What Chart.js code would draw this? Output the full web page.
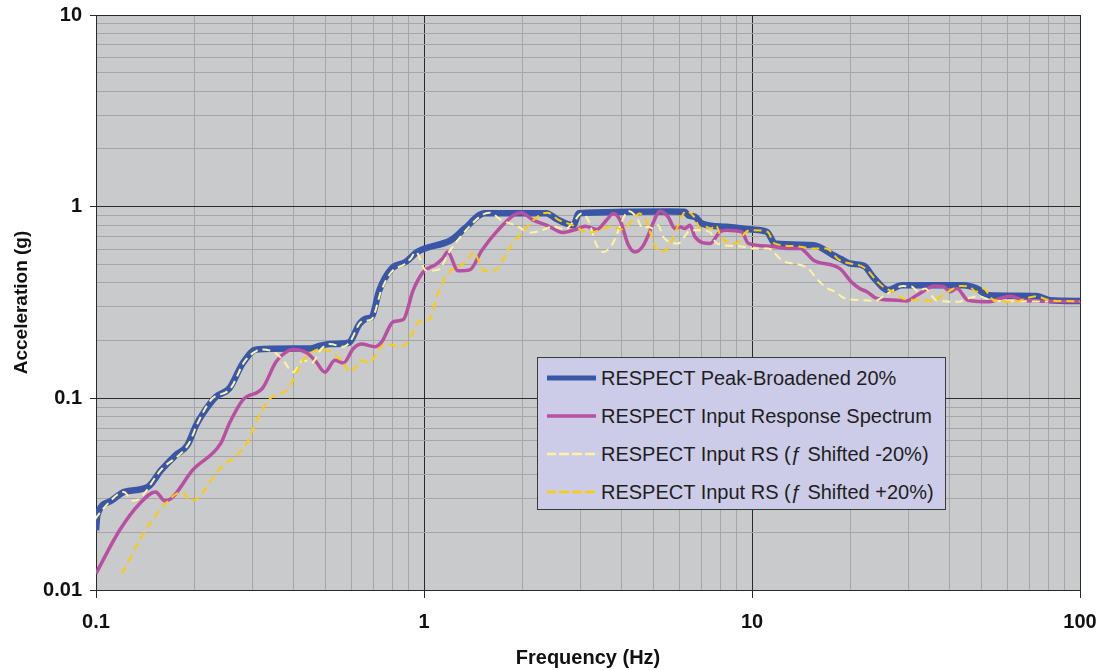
<!DOCTYPE html>
<html>
<head>
<meta charset="utf-8">
<script src="https://cdn.jsdelivr.net/npm/chart.js@4/dist/chart.umd.min.js"></script>
<style>
  html, body { margin: 0; padding: 0; background: #ffffff; }
  #wrap { position: relative; width: 1099px; height: 670px; }
  #legend {
    position: absolute; left: 537px; top: 357px; width: 409px; height: 153px;
    background: #CDCCE8; border: 1.5px solid #3a3a3a; box-sizing: border-box;
    font-family: "Liberation Sans", Arial, sans-serif; font-size: 20px; color: #1e1e1e;
  }
  .row { position: absolute; left: 9px; height: 24px; display: flex; align-items: center; white-space: nowrap; }
  .row svg { margin-right: 5px; }
</style>
</head>
<body>
<div id="wrap">
  <canvas id="c" width="1099" height="670"></canvas>
  <div id="legend"></div>
</div>
<script>
// ---- Data ----
const seriesLabels = [
  'RESPECT Peak-Broadened 20%',
  'RESPECT Input Response Spectrum',
  'RESPECT Input RS (\u0192 Shifted -20%)',
  'RESPECT Input RS (\u0192 Shifted +20%)'
];

// Peak-broadened envelope
const freqEnvelope = [0.100,0.101,0.110,0.122,0.144,0.158,0.175,0.190,0.202,0.212,0.232,0.255,0.280,0.308,0.45,0.482,0.517,0.588,0.638,0.669,0.693,0.731,0.797,0.879,0.955,1.20,1.23,1.33,1.53,2.36,2.54,2.85,2.97,5.6,6.24,6.40,6.70,7.03,8.37,9.99,11.1,11.75,15.4,17.7,18.8,19.8,22.0,23.4,26.0,28.6,44.1,48.5,52.5,73.8,81.1,100];
const accEnvelope  = [0.0205,0.0246,0.0289,0.0325,0.0345,0.0422,0.0506,0.057,0.0725,0.0834,0.1018,0.1127,0.152,0.180,0.182,0.188,0.192,0.195,0.246,0.261,0.266,0.367,0.476,0.515,0.581,0.664,0.683,0.769,0.925,0.925,0.861,0.80,0.925,0.945,0.94,0.90,0.885,0.818,0.785,0.760,0.739,0.643,0.63,0.558,0.53,0.506,0.49,0.43,0.367,0.389,0.389,0.374,0.345,0.342,0.325,0.322];

// Input response spectrum
const freqInput = [0.100,0.118,0.136,0.152,0.162,0.170,0.197,0.240,0.255,0.280,0.322,0.354,0.388,0.400,0.439,0.465,0.499,0.535,0.568,0.609,0.645,0.709,0.743,0.806,0.865,0.927,0.995,1.09,1.14,1.18,1.27,1.38,1.50,1.67,1.89,1.98,2.15,2.38,2.65,2.90,3.10,3.36,3.60,3.78,3.96,4.20,4.40,4.67,5.15,5.24,5.55,5.82,6.03,6.24,6.47,6.70,7.45,7.99,8.37,9.30,9.75,11.35,12.8,14.0,15.4,18.5,20.1,21.3,22.4,24.0,27.6,29.6,31.8,36.1,38.3,40.2,42.1,45.6,53.2,57.0,61.2,67.2,73.8,100];
const accInput  = [0.0122,0.0205,0.0283,0.0325,0.0292,0.0301,0.0422,0.0582,0.074,0.098,0.113,0.155,0.178,0.180,0.173,0.158,0.137,0.158,0.153,0.182,0.192,0.186,0.197,0.251,0.258,0.367,0.457,0.501,0.537,0.58,0.463,0.468,0.59,0.745,0.91,0.93,0.851,0.797,0.733,0.76,0.79,0.76,0.85,0.92,0.85,0.63,0.58,0.63,0.92,0.95,0.885,0.769,0.785,0.769,0.80,0.696,0.643,0.739,0.754,0.739,0.643,0.622,0.605,0.605,0.526,0.476,0.405,0.374,0.360,0.332,0.325,0.322,0.345,0.385,0.383,0.360,0.374,0.325,0.319,0.332,0.341,0.325,0.322,0.320];

// Frequency-shifted input spectra (same accelerations, shifted frequencies)
const freqMinus20 = [0.08,0.0944,0.1088,0.1216,0.1296,0.136,0.1576,0.192,0.204,0.224,0.2576,0.2832,0.3104,0.32,0.3512,0.372,0.3992,0.428,0.4544,0.4872,0.516,0.5672,0.5944,0.6448,0.692,0.7416,0.796,0.872,0.912,0.944,1.016,1.104,1.20,1.336,1.512,1.584,1.72,1.904,2.12,2.32,2.48,2.688,2.88,3.024,3.168,3.36,3.52,3.736,4.12,4.192,4.44,4.656,4.824,4.992,5.176,5.36,5.96,6.392,6.696,7.44,7.80,9.08,10.24,11.2,12.32,14.8,16.08,17.04,17.92,19.2,22.08,23.68,25.44,28.88,30.64,32.16,33.68,36.48,42.56,45.6,48.96,53.76,59.04,80];
const freqPlus20  = [0.120,0.1416,0.1632,0.1824,0.1944,0.204,0.2364,0.288,0.306,0.336,0.3864,0.4248,0.4656,0.48,0.5268,0.558,0.5988,0.642,0.6816,0.7308,0.774,0.8508,0.8916,0.9672,1.038,1.1124,1.194,1.308,1.368,1.416,1.524,1.656,1.80,2.004,2.268,2.376,2.58,2.856,3.18,3.48,3.72,4.032,4.32,4.536,4.752,5.04,5.28,5.604,6.18,6.288,6.66,6.984,7.236,7.488,7.764,8.04,8.94,9.588,10.044,11.16,11.7,13.62,15.36,16.8,18.48,22.2,24.12,25.56,26.88,28.8,33.12,35.52,38.16,43.32,45.96,48.24,50.52,54.72,63.84,68.4,73.44,80.64,88.56,120];

// Axis ticks
const xTickValues = [0.1, 1, 10, 100];
const xTickLabels = ['0.1', '1', '10', '100'];
const yTickValues = [0.01, 0.1, 1, 10];
const yTickLabels = ['0.01', '0.1', '1', '10'];

// ---- Build chart ----
const pts = (fs, as) => fs.map((f, i) => ({ x: f, y: as[i] }));
const FONT = '"Liberation Sans", Arial, sans-serif';

function isMajor(v, majors) {
  return majors.some(m => Math.abs(v - m) / m < 1e-6);
}
function logTicks(majors) {
  const t = [];
  for (let d = 0; d < majors.length - 1; d++) {
    for (let m = 1; m <= 9; m++) t.push({ value: majors[d] * m });
  }
  t.push({ value: majors[majors.length - 1] });
  return t;
}

const colors = ['#3A56A6', '#B94FA0', '#FFF3A0', '#FFCC00'];
const widths = [6.5, 3.5, 2, 2];
const dashes = [[], [], [8, 5], [8, 5]];

const datasets = [
  { label: seriesLabels[0], data: pts(freqEnvelope, accEnvelope), order: 4 },
  { label: seriesLabels[1], data: pts(freqInput, accInput), order: 3 },
  { label: seriesLabels[2], data: pts(freqMinus20, accInput), order: 2 },
  { label: seriesLabels[3], data: pts(freqPlus20, accInput), order: 1 }
].map((d, i) => Object.assign(d, {
  borderColor: colors[i], backgroundColor: colors[i], borderWidth: widths[i],
  borderDash: dashes[i], pointRadius: 0, showLine: true, fill: false,
  cubicInterpolationMode: 'monotone', borderCapStyle: 'butt', borderJoinStyle: 'round'
}));

const bgPlugin = {
  id: 'plotBg',
  beforeDraw(chart) {
    const { ctx, chartArea: a } = chart;
    ctx.save();
    ctx.fillStyle = '#C9CACC';
    ctx.fillRect(a.left, a.top, a.right - a.left, a.bottom - a.top);
    ctx.restore();
  }
};

new Chart(document.getElementById('c'), {
  type: 'scatter',
  data: { datasets },
  options: {
    responsive: false,
    animation: false,
    layout: { padding: { top: 15, right: 19, left: 0, bottom: 0 } },
    plugins: { legend: { display: false }, tooltip: { enabled: false } },
    scales: {
      x: {
        type: 'logarithmic', min: 0.1, max: 100,
        afterBuildTicks: s => { s.ticks = logTicks(xTickValues); },
        afterFit: s => { s.height = 80; s.paddingLeft = 0; s.paddingRight = 0; },
        ticks: {
          autoSkip: false, maxRotation: 0, padding: 12, color: '#111',
          font: { family: FONT, size: 20, weight: 'bold' },
          callback: v => { const i = xTickValues.findIndex(m => Math.abs(v - m) / m < 1e-6); return i >= 0 ? xTickLabels[i] : ''; }
        },
        grid: {
          color: c => (c.tick && isMajor(c.tick.value, xTickValues)) ? '#2a2a2a' : '#A5A6A8',
          tickColor: c => (c.tick && isMajor(c.tick.value, xTickValues)) ? '#2a2a2a' : 'rgba(0,0,0,0)',
          lineWidth: 1, tickLength: 8
        },
        border: { color: '#2a2a2a', width: 1 },
        title: { display: true, text: 'Frequency (Hz)', color: '#111', padding: { top: 4, bottom: 0 },
                 font: { family: FONT, size: 20, weight: 'bold' } }
      },
      y: {
        type: 'logarithmic', min: 0.01, max: 10,
        afterBuildTicks: s => { s.ticks = logTicks(yTickValues); },
        afterFit: s => { s.width = 96; s.paddingTop = 0; s.paddingBottom = 0; },
        ticks: {
          autoSkip: false, padding: 8, color: '#111',
          font: { family: FONT, size: 20, weight: 'bold' },
          callback: v => { const i = yTickValues.findIndex(m => Math.abs(v - m) / m < 1e-6); return i >= 0 ? yTickLabels[i] : ''; }
        },
        grid: {
          color: c => (c.tick && isMajor(c.tick.value, yTickValues)) ? '#2a2a2a' : '#A5A6A8',
          tickColor: c => (c.tick && isMajor(c.tick.value, yTickValues)) ? '#2a2a2a' : 'rgba(0,0,0,0)',
          lineWidth: 1, tickLength: 6
        },
        border: { color: '#2a2a2a', width: 1 },
        title: { display: true, text: 'Acceleration (g)', color: '#111', padding: { top: 10, bottom: 0 },
                 font: { family: FONT, size: 19, weight: 'bold' } }
      }
    }
  },
  plugins: [bgPlugin]
});

// ---- HTML legend built from the datasets ----
const legend = document.getElementById('legend');
const rowTops = [8, 46, 84, 122];
datasets.forEach((d, i) => {
  const row = document.createElement('div');
  row.className = 'row';
  row.style.top = rowTops[i] + 'px';
  const dash = d.borderDash.length ? `stroke-dasharray="${d.borderDash.join(' ')}"` : '';
  row.innerHTML = `<svg width="49" height="10"><line x1="0" y1="5" x2="49" y2="5" stroke="${d.borderColor}" stroke-width="${i < 2 ? (i === 0 ? 5 : 3.5) : 2.5}" ${dash} stroke-linecap="round"/></svg><span>${d.label}</span>`;
  legend.appendChild(row);
});
</script>
</body>
</html>
